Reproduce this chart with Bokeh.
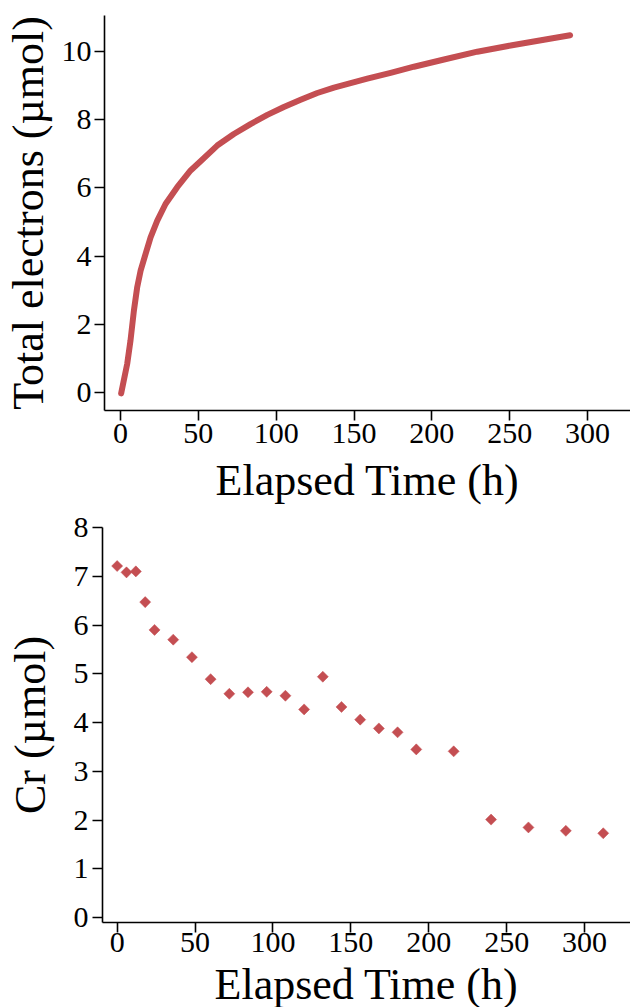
import numpy as np
from bokeh.plotting import figure
from bokeh.models import Range1d, FixedTicker
from bokeh.embed import file_html
from bokeh.resources import INLINE

# ---- data ----
elec_time = [0.4, 2.1, 4.3, 6.4, 8.6, 10.7, 12.9, 16.1, 19.3, 23.6, 28.9, 36.4,
             45.0, 51.4, 62.1, 72.8, 83.5, 94.3, 104.9, 115.7, 126.4, 137.1,
             147.8, 158.5, 173.5, 188.5, 207.8, 229.2, 250.6, 272.0, 288.8]
elec_total = [-0.02, 0.36, 0.85, 1.53, 2.41, 3.09, 3.58, 4.07, 4.55, 5.04, 5.53, 6.02,
              6.51, 6.78, 7.24, 7.58, 7.87, 8.14, 8.37, 8.58, 8.78, 8.94,
              9.07, 9.20, 9.37, 9.55, 9.76, 9.99, 10.17, 10.34, 10.47]

cr_time = [0, 6, 12, 18, 24, 36, 48, 60, 72, 84, 96, 108, 120, 132, 144, 156,
           168, 180, 192, 216, 240, 264, 288, 312]
cr_umol = [7.21, 7.08, 7.10, 6.47, 5.90, 5.70, 5.34, 4.89, 4.59, 4.62, 4.63, 4.55,
           4.27, 4.94, 4.32, 4.06, 3.88, 3.80, 3.45, 3.41, 2.01, 1.85, 1.78, 1.73]

x_ticks = [0, 50, 100, 150, 200, 250, 300]
top_y_ticks = [0, 2, 4, 6, 8, 10]
bot_y_ticks = [0, 1, 2, 3, 4, 5, 6, 7, 8]

x_label = "Elapsed Time (h)"
top_y_label = "Total electrons (\u00b5mol)"
bot_y_label = "Cr (\u00b5mol)"

RED = "#C44E52"
FONT = "Liberation Serif"


def style(p, xt, yt, x_std, x_lab_std, y_std, y_lab_std):
    p.grid.visible = False
    p.outline_line_color = None
    p.background_fill_color = "white"
    p.border_fill_color = "white"
    for ax in (p.xaxis[0], p.yaxis[0]):
        ax.axis_line_color = "black"
        ax.axis_line_width = 1.6
        ax.major_tick_line_color = "black"
        ax.major_tick_line_width = 1.6
        ax.major_tick_out = 10
        ax.major_tick_in = 0
        ax.minor_tick_line_color = None
        ax.major_label_text_font = FONT
        ax.major_label_text_font_size = "30px"
        ax.major_label_text_color = "black"
        ax.axis_label_text_font = FONT
        ax.axis_label_text_font_size = "44px"
        ax.axis_label_text_font_style = "normal"
        ax.axis_label_text_color = "black"
    p.xaxis[0].ticker = FixedTicker(ticks=xt)
    p.yaxis[0].ticker = FixedTicker(ticks=yt)
    p.xaxis[0].major_label_standoff = x_std
    p.xaxis[0].axis_label_standoff = x_lab_std
    p.yaxis[0].major_label_standoff = y_std
    p.yaxis[0].axis_label_standoff = y_lab_std


top = figure(frame_width=526, frame_height=395,
             x_range=Range1d(-10.3, 327.6), y_range=Range1d(-0.52, 11.05),
             min_border_left=104, min_border_right=0, min_border_top=15,
             min_border_bottom=100,
             output_backend="svg", toolbar_location=None,
             x_axis_label=x_label, y_axis_label=top_y_label)
style(top, x_ticks, top_y_ticks, 3, 10, 3, 6)
top.line(elec_time, elec_total, line_color=RED, line_width=6, line_cap="round",
         line_join="round")

bot = figure(frame_width=528, frame_height=395,
             x_range=Range1d(-9.4, 329.5), y_range=Range1d(-0.1, 8),
             min_border_left=102, min_border_right=0, min_border_top=17,
             min_border_bottom=85,
             output_backend="svg", toolbar_location=None,
             x_axis_label=x_label, y_axis_label=bot_y_label)
style(bot, x_ticks, bot_y_ticks, 0, 5, 4, 16)
bot.scatter(cr_time, cr_umol, marker="square", angle=np.pi / 4, size=7.8,
            fill_color=RED, line_color=RED, line_width=0.5)

open("out.html", "w").write(file_html([top, bot], INLINE))
